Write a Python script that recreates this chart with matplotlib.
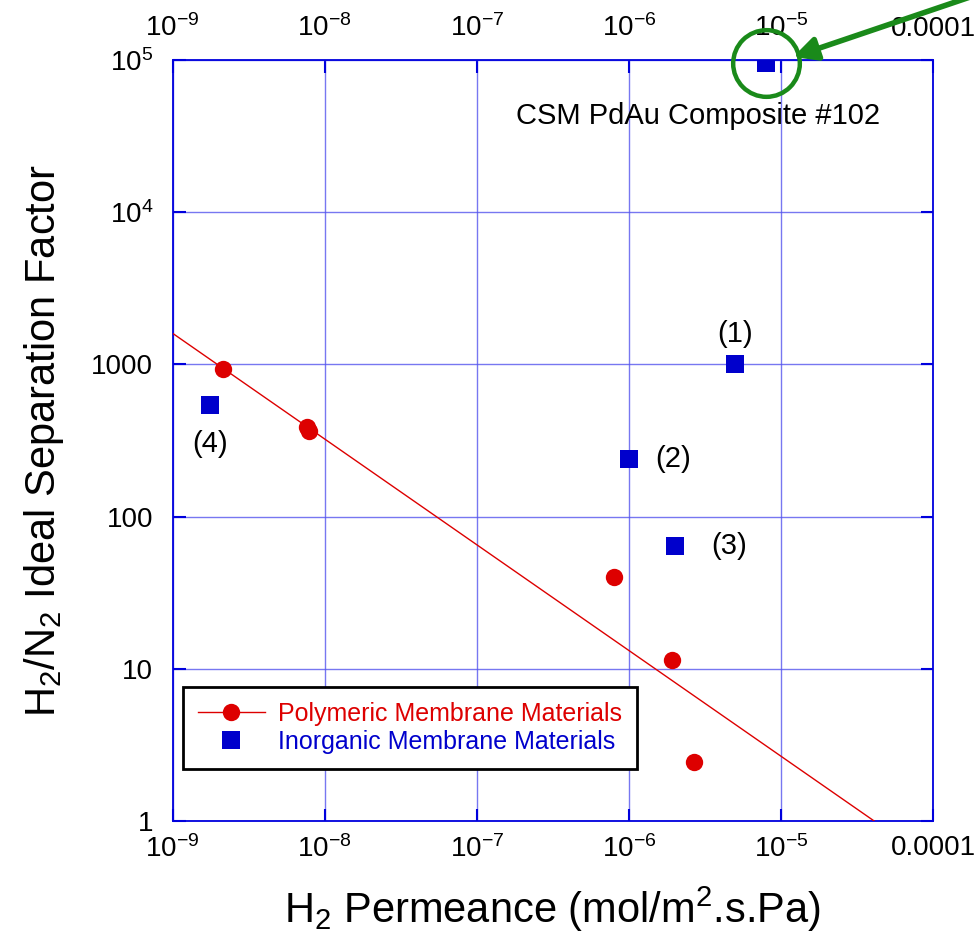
"""H2/N2 separation factor vs H2 permeance for membrane materials"""

import matplotlib.pyplot as plt
from matplotlib.ticker import FixedLocator, FixedFormatter, NullLocator

plt.rcParams["font.family"] = ["Liberation Sans", "DejaVu Sans"]
plt.rcParams["mathtext.fontset"] = "custom"
plt.rcParams["mathtext.rm"] = "Liberation Sans"
plt.rcParams["mathtext.it"] = "Liberation Sans:italic"
plt.rcParams["mathtext.bf"] = "Liberation Sans:bold"

# data
poly_x = [2.15e-9, 7.6e-9, 7.9e-9, 8.0e-7, 1.93e-6, 2.7e-6]
poly_y = [930, 390, 365, 40, 11.5, 2.45]

inorg_x = [8.0e-6, 5.0e-6, 1.0e-6, 2.0e-6, 1.75e-9]
inorg_y = [9.6e4, 1000, 240, 64, 540]
inorg_names = ["CSM PdAu Composite #102", "(1)", "(2)", "(3)", "(4)"]

# upper bound trend line for polymers
fit_x = [1e-9, 4.1e-5]
fit_y = [1600, 1]

x_ticks = [1e-9, 1e-8, 1e-7, 1e-6, 1e-5, 1e-4]
x_labels = ["$10^{-9}$", "$10^{-8}$", "$10^{-7}$", "$10^{-6}$", "$10^{-5}$", "0.0001"]
y_ticks = [1, 10, 100, 1000, 1e4, 1e5]
y_labels = ["1", "10", "100", "1000", "$10^{4}$", "$10^{5}$"]

RED = "#dd0000"
BLUE = "#0000cc"
GREEN = "#1a8a1a"
AXIS_BLUE = "#0000dd"

fig = plt.figure(figsize=(9.75, 9.47), dpi=100)
ax = fig.add_axes([0.1771, 0.1331, 0.7798, 0.8035])

ax.set_xscale("log")
ax.set_yscale("log")
ax.set_xlim(1e-9, 1e-4)
ax.set_ylim(1, 1e5)

ax.plot(fit_x, fit_y, "-", color=RED, lw=1.0, zorder=3)
ax.plot(poly_x, poly_y, "o", color=RED, ms=12.5, mew=0, zorder=4)
ax.plot(inorg_x, inorg_y, "s", color=BLUE, ms=12.5, mew=0, zorder=4)

# labels next to the inorganic points (offsets in points)
label_offsets = [(-49, -38), (0, 22), (32, 0), (39, 0), (0, -28)]
for x, y, name, off in zip(inorg_x, inorg_y, inorg_names, label_offsets):
    ax.annotate(name, (x, y), xytext=off, textcoords="offset points",
                ha="center", va="center", fontsize=21)

# highlight the best membrane
ax.plot(inorg_x[0], inorg_y[0], "o", ms=48, mfc="none", mec=GREEN, mew=3.2,
        clip_on=False, zorder=5)
ax.annotate("", xy=(0.816, 1.004), xycoords="axes fraction",
            xytext=(1.07, 1.09), textcoords="axes fraction",
            annotation_clip=False,
            arrowprops=dict(arrowstyle="-|>,head_length=1.4,head_width=0.7",
                            color=GREEN, lw=4, shrinkA=0, shrinkB=0))

# legend proxies
ax.plot([], [], "-o", color=RED, lw=1.0, ms=12.5, mew=0,
        label="Polymeric Membrane Materials")
ax.plot([], [], "s", color=BLUE, ms=12.5, mew=0,
        label="Inorganic Membrane Materials")
handles, labels = ax.get_legend_handles_labels()
leg = ax.legend(handles, labels, loc="upper left", bbox_to_anchor=(0.013, 0.176),
                borderaxespad=0, fontsize=18, fancybox=False, framealpha=1,
                edgecolor="black", handlelength=2.7, handletextpad=0.5,
                labelspacing=0.15, borderpad=0.6)
leg.get_frame().set_linewidth(2)
leg.texts[0].set_color(RED)
leg.texts[1].set_color(BLUE)

# axes styling
ax.xaxis.set_major_locator(FixedLocator(x_ticks))
ax.xaxis.set_major_formatter(FixedFormatter(x_labels))
ax.yaxis.set_major_locator(FixedLocator(y_ticks))
ax.yaxis.set_major_formatter(FixedFormatter(y_labels))
ax.xaxis.set_minor_locator(NullLocator())
ax.yaxis.set_minor_locator(NullLocator())
ax.tick_params(which="major", direction="in", length=9, width=1.5,
               color=AXIS_BLUE, labelsize=20, top=True, right=True)
ax.tick_params(axis="x", pad=10)
ax.tick_params(axis="y", pad=14)
for sp in ax.spines.values():
    sp.set_color(AXIS_BLUE)
    sp.set_linewidth(1.3)
ax.grid(True, color="#5555ee", lw=1.0, alpha=0.8)
ax.set_axisbelow(True)

# same permeance labels along the top
top = ax.secondary_xaxis("top")
top.xaxis.set_major_locator(FixedLocator(x_ticks))
top.xaxis.set_major_formatter(FixedFormatter(x_labels))
top.xaxis.set_minor_locator(NullLocator())
top.tick_params(length=0, labelsize=20, pad=13)
top.spines["top"].set_visible(False)

ax.set_xlabel("H$_2$ Permeance (mol/m$^2$.s.Pa)", fontsize=30, labelpad=16)
ax.set_ylabel("H$_2$/N$_2$ Ideal Separation Factor", fontsize=30, labelpad=18)

fig.savefig("out.png", dpi=100)
